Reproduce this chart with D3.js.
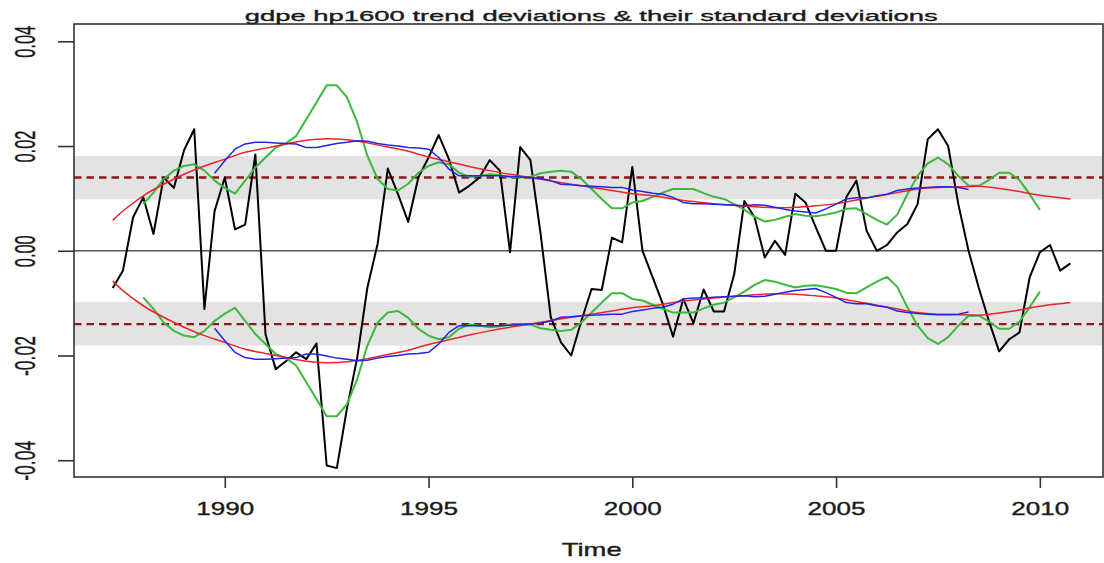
<!DOCTYPE html>
<html>
<head>
<meta charset="utf-8">
<script src="https://cdn.jsdelivr.net/npm/d3@7"></script>
<style>
  html, body { margin: 0; padding: 0; background: #fff; }
  svg { display: block; }
  text { font-family: "Liberation Sans", Arial, Helvetica, sans-serif; fill: #1a1a1a; stroke: #1a1a1a; stroke-width: 0.35px; }
</style>
</head>
<body>
<svg id="chart" width="1104" height="563"></svg>
<script>
// Quarterly HP(1600) trend deviations of gdpe, 1987Q2 - 2010Q4
const devStart = 1987.25;
const deviations = [
  -0.0071, -0.0038, 0.0064,
  0.0102, 0.0032, 0.0140, 0.0120,
  0.0192, 0.0232, -0.0111, 0.0076,
  0.0140, 0.0041, 0.0050, 0.0184,
  -0.0160, -0.0226, -0.0211, -0.0194,
  -0.0207, -0.0177, -0.0410, -0.0415,
  -0.0300, -0.0204, -0.0070, 0.0013,
  0.0157, 0.0108, 0.0055, 0.0140,
  0.0178, 0.0221, 0.0175, 0.0111,
  0.0124, 0.0140, 0.0173, 0.0153,
  -0.0003, 0.0198, 0.0173, 0.0032,
  -0.0127, -0.0175, -0.0200, -0.0134,
  -0.0073, -0.0075, 0.0025, 0.0016,
  0.0160, 0.0000, -0.0051, -0.0102,
  -0.0164, -0.0092, -0.0138, -0.0074,
  -0.0116, -0.0116, -0.0045, 0.0095,
  0.0064, -0.0013, 0.0019, -0.0008,
  0.0109, 0.0092, 0.0045, 0.0000,
  0.0000, 0.0102, 0.0134, 0.0038,
  0.0000, 0.0011, 0.0035, 0.0051,
  0.0089, 0.0213, 0.0232, 0.0200,
  0.0089, 0.0000, -0.0070, -0.0134,
  -0.0192, -0.0169, -0.0156, -0.0051,
  -0.0003, 0.0011, -0.0038, -0.0024
];

// Short centred rolling standard deviation (green), 1988Q1 - 2010Q1
const shortSdStart = 1988.0;
const shortSd = [
  0.0089, 0.0111, 0.0137, 0.0153,
  0.0162, 0.0165, 0.0153, 0.0134,
  0.0120, 0.0109, 0.0134, 0.0159,
  0.0178, 0.0197, 0.0205, 0.0219,
  0.0251, 0.0283, 0.0316, 0.0316,
  0.0293, 0.0245, 0.0181, 0.0137,
  0.0118, 0.0115, 0.0128, 0.0149,
  0.0162, 0.0169, 0.0165, 0.0149,
  0.0141, 0.0143, 0.0146, 0.0144,
  0.0141, 0.0140, 0.0141, 0.0148,
  0.0151, 0.0153, 0.0151, 0.0137,
  0.0118, 0.0099, 0.0081, 0.0081,
  0.0092, 0.0095, 0.0103, 0.0111,
  0.0118, 0.0118, 0.0118, 0.0110,
  0.0103, 0.0099, 0.0089, 0.0078,
  0.0065, 0.0056, 0.0059, 0.0065,
  0.0070, 0.0067, 0.0066, 0.0069,
  0.0073, 0.0080, 0.0081, 0.0070,
  0.0059, 0.0050, 0.0069, 0.0108,
  0.0143, 0.0167, 0.0178, 0.0165,
  0.0143, 0.0124, 0.0124, 0.0135,
  0.0149, 0.0149, 0.0135, 0.0108,
  0.0078
];

// Long centred rolling standard deviation (blue), 1989Q4 - 2008Q2
const longSdStart = 1989.75;
const longSd = [
  0.0148,
  0.0172, 0.0194, 0.0204, 0.0207,
  0.0207, 0.0206, 0.0205, 0.0204,
  0.0197, 0.0197, 0.0201, 0.0205,
  0.0207, 0.0210, 0.0209, 0.0205,
  0.0202, 0.0200, 0.0197, 0.0196,
  0.0194, 0.0178, 0.0156, 0.0143,
  0.0143, 0.0143, 0.0143, 0.0143,
  0.0142, 0.0141, 0.0140, 0.0138,
  0.0134, 0.0127, 0.0126, 0.0124,
  0.0123, 0.0122, 0.0121, 0.0121,
  0.0116, 0.0113, 0.0110, 0.0108,
  0.0102, 0.0092, 0.0090, 0.0090,
  0.0089, 0.0088, 0.0087, 0.0086,
  0.0088, 0.0087, 0.0083, 0.0079,
  0.0076, 0.0074, 0.0072, 0.0080,
  0.0089, 0.0099, 0.0101, 0.0101,
  0.0105, 0.0108, 0.0115, 0.0118,
  0.0120, 0.0121, 0.0122, 0.0122,
  0.0121, 0.0117
];

// Smoothed standard deviation (red), sampled at half-year steps
const smoothSdTime = [
  1987.25, 1987.5, 1988.0, 1988.5, 1989.0, 1989.5, 1990.0, 1990.5,
  1991.0, 1991.5, 1992.0, 1992.5, 1993.0, 1993.5, 1994.0, 1994.5,
  1995.0, 1995.5, 1996.0, 1996.5, 1997.0, 1997.5, 1998.0, 1998.5,
  1999.0, 1999.5, 2000.0, 2000.5, 2001.0, 2001.5, 2002.0, 2002.5,
  2003.0, 2003.5, 2004.0, 2004.5, 2005.0, 2005.5, 2006.0, 2006.5,
  2007.0, 2007.5, 2008.0, 2008.5, 2009.0, 2009.5, 2010.0, 2010.75
];
const smoothSd = [
  0.0058, 0.0076, 0.0105, 0.0127, 0.0146, 0.0162, 0.0175, 0.0188,
  0.0196, 0.0204, 0.0211, 0.0214, 0.0212, 0.0206, 0.0198, 0.0190,
  0.0179, 0.0170, 0.0161, 0.0153, 0.0146, 0.0140, 0.0133, 0.0127,
  0.0121, 0.0115, 0.0109, 0.0105, 0.0099, 0.0094, 0.0090, 0.0087,
  0.0084, 0.0082, 0.0083, 0.0086, 0.0090, 0.0097, 0.0104, 0.0111,
  0.0118, 0.0121, 0.0122, 0.0123, 0.0119, 0.0113, 0.0106, 0.0099
];

// Reference band: overall standard deviation and its range
const overallSd = 0.0140;
const bandLow = 0.0098;
const bandHigh = 0.0181;

const xTicks = [1990, 1995, 2000, 2005, 2010];
const yTicks = [-0.04, -0.02, 0.00, 0.02, 0.04];
const titleText = "gdpe hp1600 trend deviations & their standard deviations";
const xLabel = "Time";

// ---- layout ----
const plot = { left: 74, right: 1103, top: 24, bottom: 477 };
const svg = d3.select("#chart");

const x = d3.scaleLinear().domain([1986.3, 2011.55]).range([plot.left, plot.right]);
const y = d3.scaleLinear().domain([-0.0432, 0.0433]).range([plot.bottom, plot.top]);

const quarterly = (start, vals) => vals.map((v, i) => ({ t: start + i * 0.25, v }));
const mirror = pts => pts.map(d => ({ t: d.t, v: -d.v }));

const devPts = quarterly(devStart, deviations);
const shortPts = quarterly(shortSdStart, shortSd);
const longPts = quarterly(longSdStart, longSd);
const smoothPts = smoothSdTime.map((t, i) => ({ t, v: smoothSd[i] }));

const line = d3.line().x(d => x(d.t)).y(d => y(d.v));
const smoothLine = d3.line().x(d => x(d.t)).y(d => y(d.v)).curve(d3.curveNatural);

const g = svg.append("g");
g.append("defs").append("clipPath").attr("id", "plot-clip")
  .append("rect")
  .attr("x", plot.left).attr("y", plot.top)
  .attr("width", plot.right - plot.left).attr("height", plot.bottom - plot.top);

const inner = g.append("g").attr("clip-path", "url(#plot-clip)");

// shaded bands around +/- overall sd
[1, -1].forEach(s => {
  const lo = Math.min(s * bandLow, s * bandHigh);
  const hi = Math.max(s * bandLow, s * bandHigh);
  inner.append("rect")
    .attr("x", plot.left).attr("width", plot.right - plot.left)
    .attr("y", y(hi)).attr("height", y(lo) - y(hi))
    .attr("fill", "#e3e3e3");
});

// zero line
inner.append("line")
  .attr("x1", plot.left).attr("x2", plot.right)
  .attr("y1", y(0)).attr("y2", y(0))
  .attr("stroke", "#555").attr("stroke-width", 1.5);

// dashed +/- overall sd
[overallSd, -overallSd].forEach(v => {
  inner.append("line")
    .attr("x1", plot.left).attr("x2", plot.right)
    .attr("y1", y(v)).attr("y2", y(v))
    .attr("stroke", "#8b1a1a").attr("stroke-width", 2.4)
    .attr("stroke-dasharray", "7.5,5");
});

// deviations
inner.append("path").datum(devPts)
  .attr("d", line).attr("fill", "none")
  .attr("stroke", "#000").attr("stroke-width", 2).attr("stroke-linejoin", "round");

// short-window sd (+/-)
[shortPts, mirror(shortPts)].forEach(p => {
  inner.append("path").datum(p)
    .attr("d", line).attr("fill", "none")
    .attr("stroke", "#3cb83c").attr("stroke-width", 2).attr("stroke-linejoin", "round");
});

// smoothed sd (+/-)
[smoothPts, mirror(smoothPts)].forEach(p => {
  inner.append("path").datum(p)
    .attr("d", smoothLine).attr("fill", "none")
    .attr("stroke", "#e8262a").attr("stroke-width", 1.5);
});

// long-window sd (+/-)
[longPts, mirror(longPts)].forEach(p => {
  inner.append("path").datum(p)
    .attr("d", line).attr("fill", "none")
    .attr("stroke", "#2424e6").attr("stroke-width", 1.5).attr("stroke-linejoin", "round");
});

// box
g.append("rect")
  .attr("x", plot.left).attr("y", plot.top)
  .attr("width", plot.right - plot.left).attr("height", plot.bottom - plot.top)
  .attr("fill", "none").attr("stroke", "#333").attr("stroke-width", 1.6);

// x axis
const xAxis = g.append("g")
  .attr("transform", `translate(0,${plot.bottom})`)
  .call(d3.axisBottom(x).tickValues(xTicks).tickSize(11).tickPadding(0).tickFormat(d3.format("d")));
xAxis.select(".domain").remove();
xAxis.selectAll(".tick line").attr("stroke", "#333").attr("stroke-width", 1.6);
xAxis.selectAll(".tick text")
  .attr("y", 38).attr("dy", null)
  .attr("font-size", 18.6)
  .attr("textLength", 58).attr("lengthAdjust", "spacingAndGlyphs")
  .attr("fill", "#1a1a1a");

// y axis
const yAxis = g.append("g")
  .attr("transform", `translate(${plot.left},0)`)
  .call(d3.axisLeft(y).tickValues(yTicks).tickSize(16).tickFormat(d => d.toFixed(2)));
yAxis.select(".domain").remove();
yAxis.selectAll(".tick line").attr("stroke", "#333").attr("stroke-width", 1.6);
yAxis.selectAll(".tick text")
  .attr("x", null).attr("dy", null)
  .attr("text-anchor", "middle")
  .attr("transform", "translate(-39,0) rotate(-90)")
  .attr("font-size", 30)
  .attr("textLength", function(d) { return d < 0 ? 40 : 32; })
  .attr("lengthAdjust", "spacingAndGlyphs")
  .attr("fill", "#1a1a1a");

// title
g.append("text")
  .attr("x", 591.3).attr("y", 20.5)
  .attr("text-anchor", "middle")
  .attr("font-size", 15.4)
  .attr("textLength", 693).attr("lengthAdjust", "spacingAndGlyphs")
  .text(titleText);

// x label
g.append("text")
  .attr("x", 591.7).attr("y", 556)
  .attr("text-anchor", "middle")
  .attr("font-size", 18.6)
  .attr("textLength", 60).attr("lengthAdjust", "spacingAndGlyphs")
  .text(xLabel);
</script>
</body>
</html>
